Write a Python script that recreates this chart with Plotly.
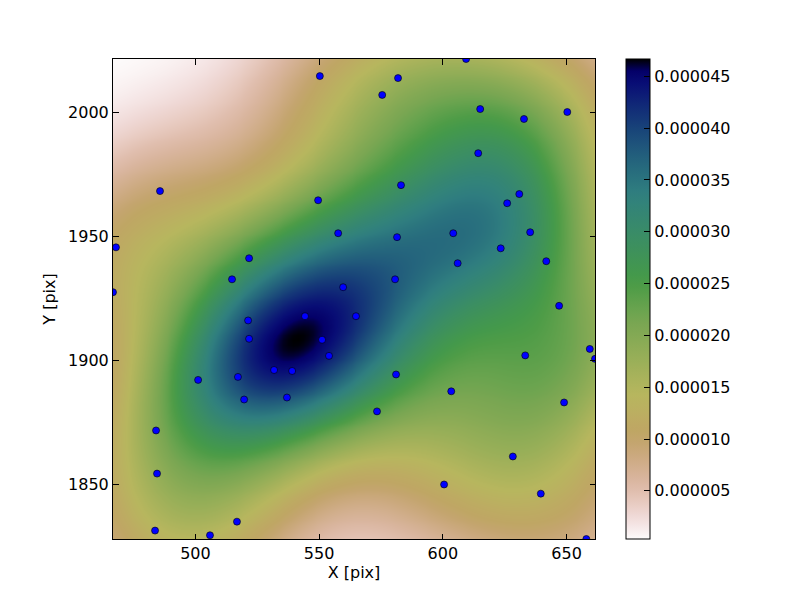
import numpy as np
import plotly.graph_objects as go

# Scatter points (X [pix], Y [pix])
pts_x = [550.3, 485.7, 549.6, 557.7, 467.9, 521.7, 514.8, 466.7, 559.7,
         609.4, 581.9, 575.5, 615.1, 632.8, 650.3, 614.3, 583.1, 630.9, 626.0,
         581.5, 604.2, 635.3, 623.4, 641.8, 606.0, 580.7,
         521.3, 544.3, 564.9, 521.7, 551.2, 554.0, 531.8, 539.1, 501.1, 517.2,
         519.7, 537.0, 484.1, 484.5, 516.8, 483.7, 505.9,
         647.0, 659.4, 661.5, 633.3, 581.1, 603.4, 573.4, 649.0, 628.3, 600.5,
         639.6, 658.0]
pts_y = [2014.8, 1968.4, 1964.7, 1951.4, 1945.7, 1941.3, 1932.8, 1927.6, 1929.6,
         2021.7, 2014.0, 2007.2, 2001.5, 1997.5, 2000.3, 1983.7, 1970.8, 1967.2, 1963.5,
         1949.8, 1951.4, 1951.8, 1945.3, 1940.1, 1939.3, 1932.8,
         1916.2, 1917.9, 1917.9, 1908.8, 1908.4, 1901.9, 1896.2, 1895.8, 1892.2, 1893.4,
         1884.3, 1885.1, 1871.8, 1854.4, 1835.0, 1831.4, 1829.5,
         1922.1, 1904.7, 1900.7, 1902.1, 1894.4, 1887.6, 1879.5, 1883.1, 1861.3, 1850.0,
         1846.3, 1828.0]

x_ticks = [500, 550, 600, 650]
y_ticks = [1850, 1900, 1950, 2000]
cbar_ticks = [0.000005, 0.000010, 0.000015, 0.000020, 0.000025,
              0.000030, 0.000035, 0.000040, 0.000045]

# Gaussian kernel density estimate of the points (Scott's rule), on a 100x100 grid
data = np.vstack([pts_x, pts_y])
n = data.shape[1]
factor = n ** (-1.0 / 6.0)
cov = np.cov(data) * factor ** 2
inv = np.linalg.inv(cov)
norm = 1.0 / (2 * np.pi * np.sqrt(np.linalg.det(cov))) / n
xmin, xmax = min(pts_x), max(pts_x)
ymin, ymax = min(pts_y), max(pts_y)
gx = np.linspace(xmin, xmax, 100)
gy = np.linspace(ymin, ymax, 100)
GX, GY = np.meshgrid(gx, gy)
Z = np.zeros_like(GX)
for px, py in zip(pts_x, pts_y):
    dx = GX - px
    dy = GY - py
    q = inv[0, 0] * dx * dx + 2 * inv[0, 1] * dx * dy + inv[1, 1] * dy * dy
    Z += np.exp(-0.5 * q)
Z *= norm

# gist_earth colormap (segment data), reversed
_r = [(0.0, 0.0), (0.2824, 0.1882), (0.4588, 0.2714), (0.5490, 0.4719),
      (0.6980, 0.7176), (0.7882, 0.7553), (1.0, 0.9922)]
_g = [(0.0, 0.0), (0.0275, 0.0), (0.1098, 0.1893), (0.1647, 0.3035),
      (0.2078, 0.3841), (0.2824, 0.5020), (0.5216, 0.6397), (0.6980, 0.7171),
      (0.7882, 0.6392), (0.8157, 0.6549), (0.8667, 0.6991), (0.8980, 0.7430),
      (0.9412, 0.8275), (0.9647, 0.8816), (0.9961, 0.9733), (1.0, 0.9843)]
_b = [(0.0, 0.0), (0.0039, 0.1684), (0.0078, 0.2212), (0.0275, 0.4329),
      (0.0314, 0.4549), (0.2824, 0.5004), (0.4667, 0.2748), (0.5451, 0.3205),
      (0.7843, 0.3961), (0.8941, 0.6651), (1.0, 0.9843)]


def _interp(seg, t):
    xs = [s[0] for s in seg]
    vs = [s[1] for s in seg]
    return float(np.interp(t, xs, vs))


colorscale = []
for t in np.linspace(0, 1, 41):
    u = 1 - t  # reversed
    r, g, b = (_interp(_r, u), _interp(_g, u), _interp(_b, u))
    colorscale.append([float(t), f"rgb({int(round(r*255))},{int(round(g*255))},{int(round(b*255))})"])

FONT = "DejaVu Sans"
fs = 16

fig = go.Figure()
fig.add_trace(go.Heatmap(
    x=gx, y=gy, z=Z, colorscale=colorscale, zsmooth="best",
    zmin=float(Z.min()), zmax=float(Z.max()),
    colorbar=dict(
        x=(626 - 113) / 482, xanchor="left", xpad=0,
        y=0.5, yanchor="middle", len=1.0, lenmode="fraction", ypad=0,
        thickness=24, thicknessmode="pixels",
        outlinewidth=1, outlinecolor="black",
        ticks="inside", ticklen=6, tickcolor="black",
        tickvals=cbar_ticks, ticktext=[f"{v:.6f}" for v in cbar_ticks],
        tickfont=dict(family=FONT, size=fs, color="black"),
    ),
    hoverinfo="skip",
))
fig.add_trace(go.Scatter(
    x=pts_x, y=pts_y, mode="markers",
    marker=dict(color="rgb(0,0,255)", size=7, line=dict(color="black", width=0.6)),
    showlegend=False, cliponaxis=True,
))

axis_common = dict(
    showgrid=False, zeroline=False, showline=True, linecolor="black", linewidth=1,
    mirror="ticks", ticks="inside", ticklen=5.5, tickcolor="black",
    tickfont=dict(family=FONT, size=fs, color="black"),
)
fig.update_layout(
    width=792, height=592,
    margin=dict(l=105, r=205, t=51, b=61, autoexpand=False),
    paper_bgcolor="white", plot_bgcolor="white",
    xaxis=dict(range=[xmin, xmax], tickvals=x_ticks, constrain="range",
               title=dict(text="X [pix]", font=dict(family=FONT, size=fs, color="black"), standoff=3),
               **axis_common),
    yaxis=dict(range=[ymin, ymax], tickvals=y_ticks,
               title=dict(text="Y [pix]", font=dict(family=FONT, size=fs, color="black"), standoff=8),
               **axis_common),
)
fig.write_html("out.html")
